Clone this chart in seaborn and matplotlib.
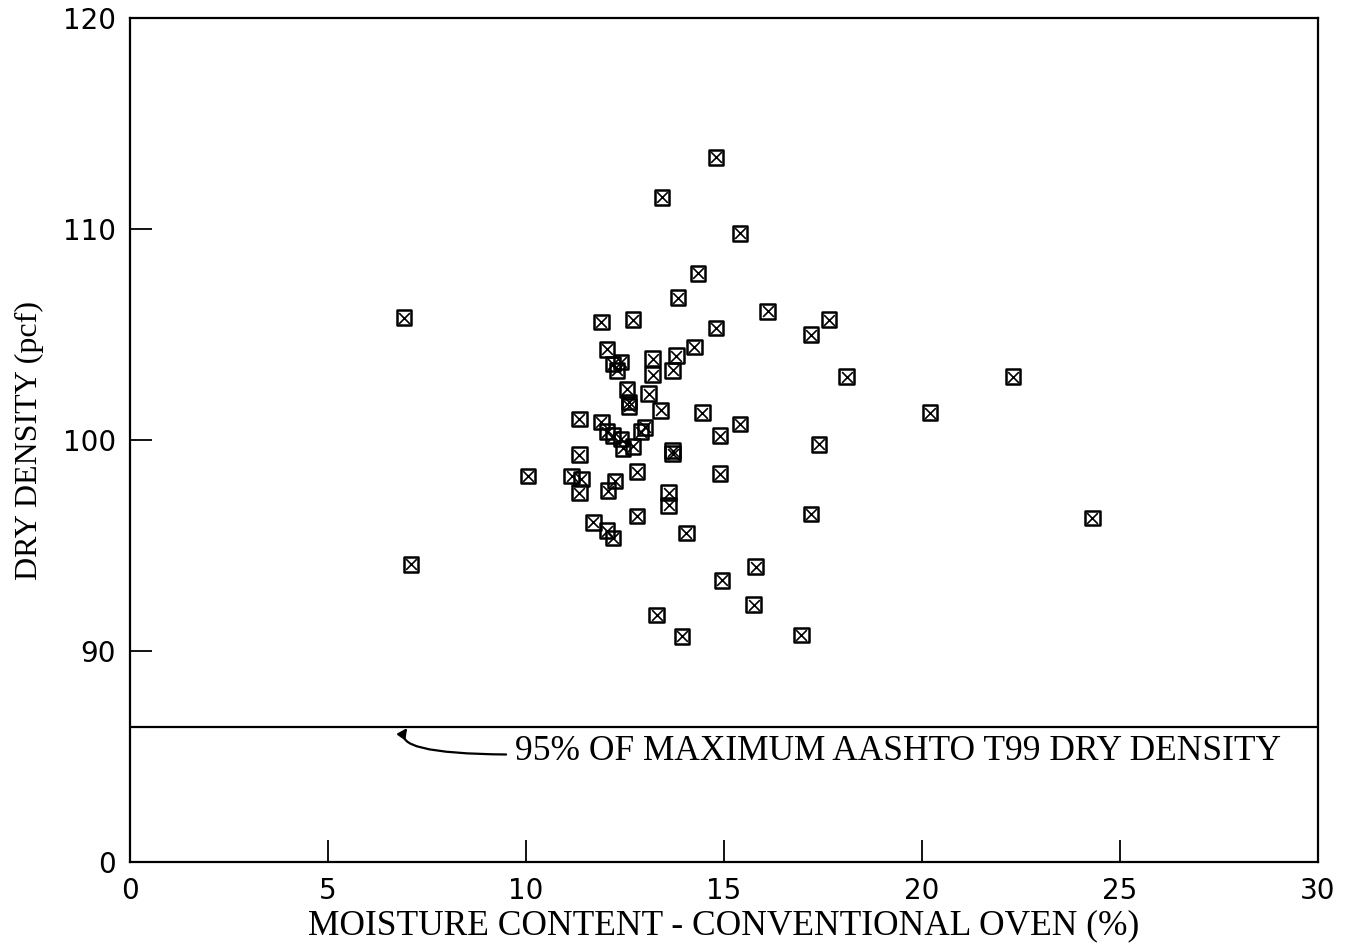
import matplotlib
matplotlib.use("Agg")
import matplotlib.pyplot as plt
import seaborn as sns
import pandas as pd

moisture = [6.92, 7.10, 10.05, 11.15, 11.4, 11.35, 11.35, 11.35, 11.7, 11.9, 11.9,
            12.05, 12.05, 12.07, 12.2, 12.2, 12.25, 12.4, 12.3, 12.2, 12.4, 12.45, 12.55,
            12.6, 12.7, 12.7, 12.8, 12.8, 12.9, 13.0, 13.1, 13.2, 13.2, 13.3, 13.4,
            13.43, 13.6, 13.6, 13.7, 13.7, 13.7, 13.8, 13.84, 13.94, 14.05, 14.25,
            14.34, 14.45, 14.8, 14.8, 14.9, 14.9, 14.95, 15.4, 15.4, 15.75, 15.8,
            16.1, 16.95, 17.2, 17.2, 17.4, 17.65, 18.1, 20.2, 22.3, 24.3, 12.05, 12.6]
density = [105.8, 94.1, 98.3, 98.3, 98.15, 101.0, 99.3, 97.5, 96.1, 105.6, 100.85,
           104.3, 100.4, 97.6, 103.6, 100.2, 98.05, 103.7, 103.3, 95.35, 100.05, 99.6, 102.4,
           101.6, 105.7, 99.7, 98.5, 96.4, 100.4, 100.6, 102.2, 103.85, 103.1, 91.7, 101.4,
           111.5, 97.5, 96.9, 99.5, 99.35, 103.3, 104.0, 106.75, 90.7, 95.6, 104.4,
           107.9, 101.3, 113.4, 105.3, 100.2, 98.4, 93.35, 109.8, 100.75, 92.2, 94.0,
           106.1, 90.75, 105.0, 96.5, 99.8, 105.7, 103.0, 101.3, 103.0, 96.3, 95.7, 101.8]

x_ticks = [0, 5, 10, 15, 20, 25, 30]
x_tick_labels = ["0", "5", "10", "15", "20", "25", "30"]
y_ticks = [80, 90, 100, 110, 120]
y_tick_labels = ["0", "90", "100", "110", "120"]
ref_density = 86.4
ref_label = "95% OF MAXIMUM AASHTO T99 DRY DENSITY"

df = pd.DataFrame({"moisture": moisture, "density": density})

sns.set_style("white")
plt.rcParams["text.color"] = "black"
fig = plt.figure(figsize=(13.47, 9.44), dpi=100)
ax = fig.add_axes([130/1347, 82/944, 1188/1347, 844/944])

sns.scatterplot(data=df, x="moisture", y="density", marker="s", s=110,
                facecolor="none", edgecolor="black", linewidth=1.8, ax=ax, zorder=3)
sns.scatterplot(data=df, x="moisture", y="density", marker="x", s=60,
                color="black", linewidth=1.2, ax=ax, zorder=3)

ax.axhline(ref_density, color="black", linewidth=1.6)
ax.annotate(ref_label, xy=(7.0, ref_density - 0.05), xytext=(9.72, 85.25),
            fontsize=25.5, family="Liberation Serif", color="black", va="center", ha="left",
            arrowprops=dict(arrowstyle="-|>", color="black", lw=1.6,
                            connectionstyle="angle3,angleA=0,angleB=55",
                            relpos=(0, 0.4), shrinkA=4, shrinkB=0, mutation_scale=14))

ax.set_xlim(0, 30)
ax.set_ylim(80, 120)
ax.set_xticks(x_ticks)
ax.set_xticklabels(x_tick_labels, family="DejaVu Sans", fontsize=20, color="black")
ax.set_yticks(y_ticks)
ax.set_yticklabels(y_tick_labels, family="DejaVu Sans", fontsize=20, color="black")
ax.tick_params(axis="both", which="major", direction="in", length=16, width=1.3,
               color="black", bottom=True, left=True, top=False, right=False)
ax.tick_params(axis="y", pad=10)
ax.tick_params(axis="x", pad=11)

for sp in ax.spines.values():
    sp.set_visible(True)
    sp.set_color("black")
    sp.set_linewidth(1.6)

ax.set_xlabel("MOISTURE CONTENT - CONVENTIONAL OVEN (%)", family="Liberation Serif",
              fontsize=25.5, color="black", labelpad=3)
ax.set_ylabel("DRY DENSITY (pcf)", family="Liberation Serif", fontsize=23,
              color="black", labelpad=14)

fig.savefig("out.png", dpi=100, facecolor="white")
